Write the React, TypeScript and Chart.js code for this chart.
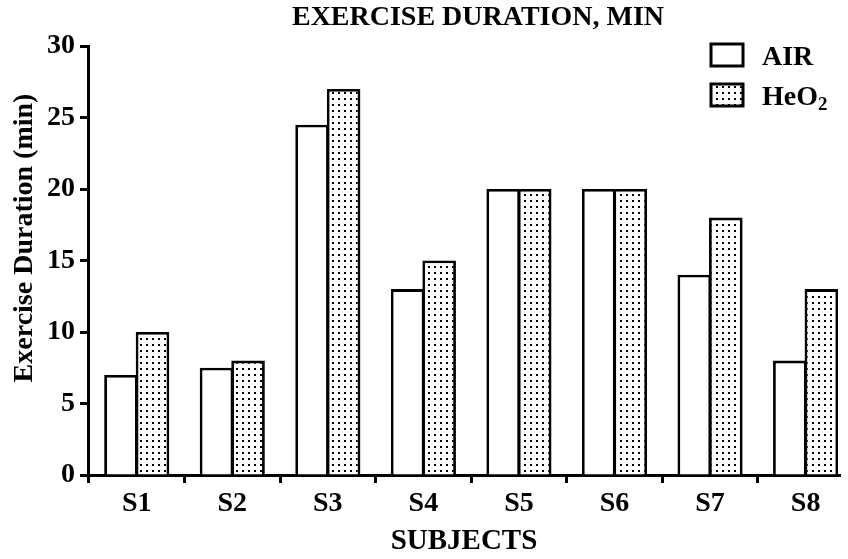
import React, { useEffect, useRef } from "react";
import { Chart, registerables } from "chart.js";

Chart.register(...registerables);

const categories = ["S1", "S2", "S3", "S4", "S5", "S6", "S7", "S8"];
const airValues = [7, 7.5, 24.5, 13, 20, 20, 14, 8];
const heo2Values = [10, 8, 27, 15, 20, 20, 18, 13];
const seriesLabels = ["AIR", "HeO2"];
const yTicks = [0, 5, 10, 15, 20, 25, 30];
const chartTitle = "EXERCISE DURATION, MIN";
const xTitle = "SUBJECTS";
const yTitle = "Exercise Duration (min)";

const FONT = "'Liberation Serif', 'Times New Roman', serif";

function makeDotPattern(): CanvasPattern | string {
  const c = document.createElement("canvas");
  c.width = 6;
  c.height = 6;
  const g = c.getContext("2d");
  if (!g) return "#fff";
  g.fillStyle = "#fff";
  g.fillRect(0, 0, 6, 6);
  g.fillStyle = "#000";
  g.fillRect(2, 2, 2, 2);
  const p = g.createPattern(c, "repeat");
  return p || "#fff";
}

export default function App() {
  const ref = useRef<HTMLCanvasElement | null>(null);

  useEffect(() => {
    const canvas = ref.current;
    if (!canvas) return;
    const pattern = makeDotPattern();

    const titlePlugin = {
      id: "customTitleLegend",
      afterDraw(chart: any) {
        const ctx = chart.ctx;
        ctx.save();
        ctx.fillStyle = "#000";
        ctx.font = `bold 28px ${FONT}`;
        ctx.textAlign = "center";
        ctx.textBaseline = "alphabetic";
        ctx.fillText(chartTitle, 478, 25);

        // y-axis title
        ctx.save();
        ctx.translate(32, 238);
        ctx.rotate(-Math.PI / 2);
        ctx.textAlign = "center";
        ctx.textBaseline = "alphabetic";
        ctx.font = `bold 28px ${FONT}`;
        ctx.fillText(yTitle, 0, 0);
        ctx.restore();

        // legend
        const boxX = 711;
        const rows = [55, 95];
        chart.data.datasets.forEach((ds: any, i: number) => {
          const cy = rows[i];
          ctx.fillStyle = i === 0 ? "#fff" : pattern;
          ctx.fillRect(boxX, cy - 11, 32, 22);
          ctx.lineWidth = 3;
          ctx.strokeStyle = "#000";
          ctx.strokeRect(boxX, cy - 11, 32, 22);
          ctx.fillStyle = "#000";
          ctx.textAlign = "left";
          ctx.textBaseline = "alphabetic";
          ctx.font = `bold 28px ${FONT}`;
          const label: string = ds.label;
          if (label === "HeO2") {
            ctx.fillText("HeO", 762, cy + 10);
            const w = ctx.measureText("HeO").width;
            ctx.font = `bold 19px ${FONT}`;
            ctx.fillText("2", 762 + w, cy + 15);
          } else {
            ctx.fillText(label, 762, cy + 10);
          }
        });
        ctx.restore();
      },
    };

    const chart = new Chart(canvas, {
      type: "bar",
      data: {
        datasets: [
          {
            label: seriesLabels[0],
            data: categories.map((_, i) => ({ x: i + 1, y: airValues[i] })),
            backgroundColor: "#fff",
            borderColor: "#000",
            borderWidth: 2.8,
            barPercentage: 1.065,
            categoryPercentage: 0.66,
          },
          {
            label: seriesLabels[1],
            data: categories.map((_, i) => ({ x: i + 1, y: heo2Values[i] })),
            backgroundColor: pattern as any,
            borderColor: "#000",
            borderWidth: 2.8,
            barPercentage: 1.065,
            categoryPercentage: 0.66,
          },
        ],
      },
      options: {
        animation: false,
        responsive: false,
        maintainAspectRatio: false,
        layout: { padding: { top: 46, right: 8, left: 0, bottom: 0 } },
        plugins: {
          legend: { display: false },
          tooltip: { enabled: false },
          title: { display: false },
        },
        scales: {
          x: {
            type: "linear",
            min: 0.49,
            max: 8.36,
            offset: false,
            afterBuildTicks(scale: any) {
              scale.ticks = categories.map((_, i) => ({ value: i + 1 }));
            },
            afterFit(scale: any) {
              scale.height = 84;
            },
            ticks: {
              color: "#000",
              font: { family: FONT, size: 28, weight: "bold" },
              padding: 4,
              maxRotation: 0,
              autoSkip: false,
              callback: (v: any) => categories[Math.round(Number(v)) - 1] ?? "",
            },
            grid: {
              drawOnChartArea: false,
              drawTicks: true,
              tickLength: 8,
              tickWidth: 3,
              color: "#000",
            },
            border: { display: true, color: "#000", width: 3 },
            title: {
              display: true,
              text: xTitle,
              color: "#000",
              font: { family: FONT, size: 29, weight: "bold" },
              padding: { top: 0, bottom: 0 },
            },
          },
          y: {
            min: 0,
            max: 30,
            afterBuildTicks(scale: any) {
              scale.ticks = yTicks.map((v) => ({ value: v }));
            },
            afterFit(scale: any) {
              scale.width = 88;
            },
            ticks: {
              color: "#000",
              font: { family: FONT, size: 28, weight: "bold" },
              padding: 5,
            },
            grid: {
              drawOnChartArea: false,
              drawTicks: true,
              tickLength: 8,
              tickWidth: 3,
              color: "#000",
            },
            border: { display: true, color: "#000", width: 3 },
            title: { display: false },
          },
        },
      },
      plugins: [titlePlugin],
    } as any);

    return () => chart.destroy();
  }, []);

  return (
    <div style={{ position: "fixed", left: 0, top: 0, width: 848, height: 559, background: "#fff" }}>
      <canvas ref={ref} width={848} height={559} style={{ width: 848, height: 559 }} />
    </div>
  );
}
